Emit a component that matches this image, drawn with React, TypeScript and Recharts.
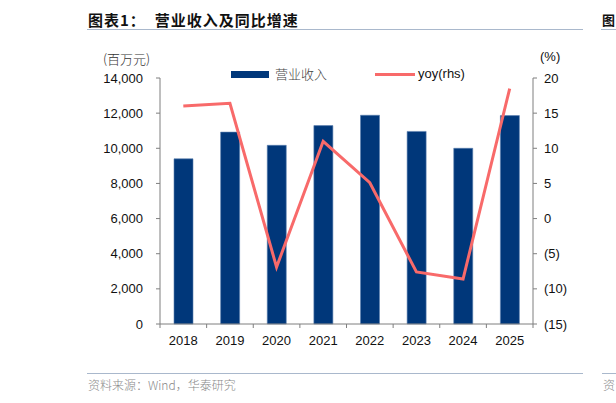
import React from 'react'
import { ComposedChart, Bar, Line, XAxis, YAxis, Legend } from 'recharts'

// 营业收入（百万元）及同比增速（%）
const years = ['2018', '2019', '2020', '2021', '2022', '2023', '2024', '2025']
const revenue = [9400, 10920, 10170, 11290, 11880, 10960, 10000, 11860]
const yoy = [16.0, 16.4, -6.9, 11.0, 5.1, -7.6, -8.6, 18.5]
const leftTicks = [0, 2000, 4000, 6000, 8000, 10000, 12000, 14000]
const rightTicks = [-15, -10, -5, 0, 5, 10, 15, 20]

const data = years.map((year, i) => ({ year, revenue: revenue[i], yoy: yoy[i] }))

const W = 616
const H = 403
const MARGIN = { top: 78, right: 33, bottom: 49, left: 100 }
const LEFT_W = 60
const RIGHT_W = 50
const PLOT_LEFT = MARGIN.left + LEFT_W
const PLOT_RIGHT = W - MARGIN.right - RIGHT_W
const PLOT_BOTTOM = H - MARGIN.bottom - 30
const BAND = (PLOT_RIGHT - PLOT_LEFT) / years.length

const BAR = '#00377a'
const RED = '#f86a6a'
const AXIS = '#7f7f7f'
const LATIN = '"Liberation Sans", Arial, sans-serif'
const CJK = '"Noto Sans CJK SC", sans-serif'

const fmtLeft = (v: number) => v.toLocaleString('en-US')
const fmtRight = (v: number) => (v < 0 ? `(${Math.abs(v)})` : `${v}`)

// x 轴刻度线画在类别分界处
function YearTick(props: any) {
  const { x, payload, index } = props
  const last = index === years.length - 1
  return (
    <g>
      <line x1={x - BAND / 2} x2={x - BAND / 2} y1={PLOT_BOTTOM} y2={PLOT_BOTTOM + 4} stroke={AXIS} />
      {last && <line x1={x + BAND / 2} x2={x + BAND / 2} y1={PLOT_BOTTOM} y2={PLOT_BOTTOM + 4} stroke={AXIS} />}
      <text x={x} y={PLOT_BOTTOM + 12} dy="0.71em" textAnchor="middle" fill="#111" fontSize={13} fontFamily={LATIN}>
        {payload.value}
      </text>
    </g>
  )
}

function LegendBox() {
  return (
    <div style={{ position: 'relative', width: W, height: 20 }}>
      <div style={{ position: 'absolute', left: 231, top: 7, width: 38, height: 7, background: BAR }} />
      <div style={{ position: 'absolute', left: 275, top: 0, fontFamily: CJK, fontWeight: 300, fontSize: 13, color: '#444', lineHeight: '20px' }}>营业收入</div>
      <div style={{ position: 'absolute', left: 375, top: 9, width: 40, height: 3, background: RED }} />
      <div style={{ position: 'absolute', left: 418, top: 0, fontFamily: LATIN, fontSize: 13, color: '#111', lineHeight: '20px' }}>yoy(rhs)</div>
    </div>
  )
}

const abs = (s: React.CSSProperties): React.CSSProperties => ({ position: 'absolute', ...s })

export default function App() {
  return (
    <div style={{ position: 'absolute', left: 0, top: 0, width: W, height: H, background: '#fff', overflow: 'hidden' }}>
      <div style={abs({ left: 88, top: 9, fontFamily: CJK, fontWeight: 700, fontSize: 15, color: '#111', letterSpacing: 1, whiteSpace: 'pre' })}>
        图表1：  营业收入及同比增速
      </div>
      <div style={abs({ left: 87, top: 29, width: 496, height: 1, background: '#a9b8cc' })} />
      <div style={abs({ left: 602, top: 10, fontFamily: CJK, fontWeight: 700, fontSize: 13, color: '#111' })}>图</div>
      <div style={abs({ left: 601, top: 29, width: 15, height: 1, background: '#a9b8cc' })} />

      <div style={abs({ left: 103, top: 49, fontFamily: CJK, fontWeight: 300, fontSize: 13, color: '#333' })}>(百万元)</div>
      <div style={abs({ left: 540, top: 49, fontFamily: LATIN, fontSize: 13, color: '#111' })}>(%)</div>

      <div style={abs({ left: 0, top: 0 })}>
        <ComposedChart width={W} height={H} data={data} margin={MARGIN}>
          <XAxis
            dataKey="year"
            xAxisId="x"
            height={30}
            stroke={AXIS}
            tickLine={false}
            tick={<YearTick />}
            interval={0}
          />
          <YAxis
            yAxisId="left"
            width={LEFT_W}
            domain={[0, 14000]}
            ticks={leftTicks}
            tickFormatter={fmtLeft}
            stroke={AXIS}
            tickSize={4}
            tickMargin={13}
            tick={{ fill: '#111', fontSize: 13, fontFamily: LATIN }}
            interval={0}
          />
          <YAxis
            yAxisId="right"
            orientation="right"
            width={RIGHT_W}
            domain={[-15, 20]}
            ticks={rightTicks}
            tickFormatter={fmtRight}
            stroke={AXIS}
            tickSize={4}
            tickMargin={7}
            tick={{ fill: '#111', fontSize: 13, fontFamily: LATIN }}
            interval={0}
          />
          <Legend
            layout="horizontal"
            verticalAlign="middle"
            align="center"
            content={() => <LegendBox />}
            wrapperStyle={{ top: 64, left: 0, width: W }}
          />
          <Bar
            dataKey="revenue"
            name="营业收入"
            xAxisId="x"
            yAxisId="left"
            fill={BAR}
            stroke="#5a7fb0"
            strokeWidth={0.6}
            barSize={19}
            isAnimationActive={false}
          />
          <Line
            dataKey="yoy"
            name="yoy(rhs)"
            xAxisId="x"
            yAxisId="right"
            stroke={RED}
            strokeWidth={3}
            dot={false}
            activeDot={false}
            isAnimationActive={false}
          />
        </ComposedChart>
      </div>

      <div style={abs({ left: 87, top: 373, width: 496, height: 1, background: '#a9b8cc' })} />
      <div style={abs({ left: 602, top: 373, width: 14, height: 1, background: '#a9b8cc' })} />
      <div style={abs({ left: 88, top: 376, fontFamily: CJK, fontWeight: 300, fontSize: 12, color: '#8a8a8a' })}>
        资料来源：Wind，华泰研究
      </div>
      <div style={abs({ left: 603, top: 376, fontFamily: CJK, fontWeight: 300, fontSize: 12, color: '#8a8a8a' })}>资</div>
    </div>
  )
}
